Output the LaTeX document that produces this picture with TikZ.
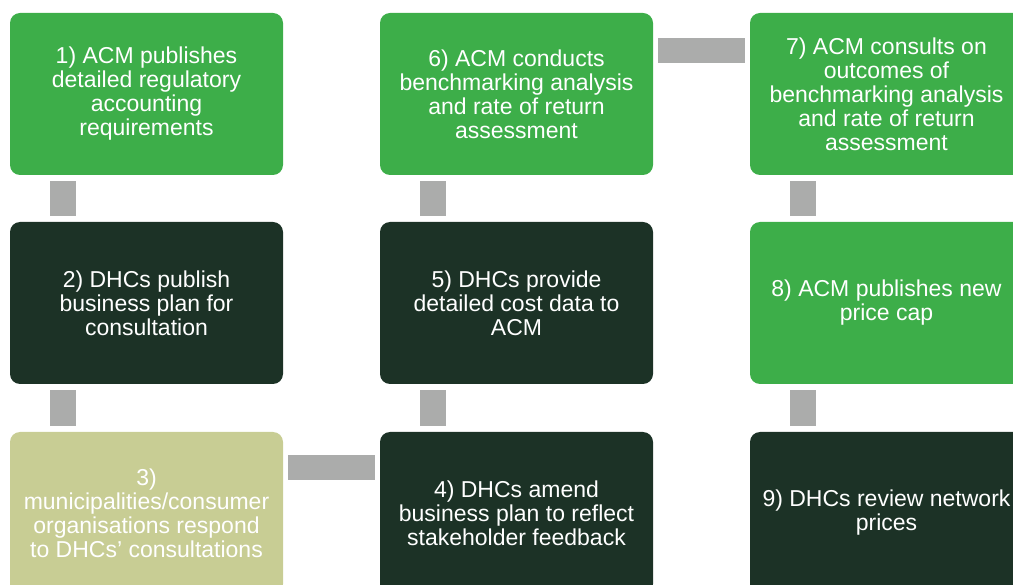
\documentclass[tikz,border=0pt]{standalone}
\usepackage{fontspec}
\setmainfont{Liberation Sans}
\usetikzlibrary{calc}
\definecolor{cgreen}{RGB}{61,174,73}
\definecolor{cdark}{RGB}{28,50,38}
\definecolor{cpale}{RGB}{200,205,148}
\definecolor{cgrey}{RGB}{171,172,171}
\begin{document}
\begin{tikzpicture}[x=1pt,y=-1pt,
  box/.style={rounded corners=10pt, minimum width=273pt, minimum height=162pt,
    inner sep=0pt, align=center, text=white, font=\fontsize{23}{24}\selectfont},
  greenbox/.style={box, fill=cgreen},
  darkbox/.style={box, fill=cdark},
  palebox/.style={box, fill=cpale},
  vconn/.style={draw=cgrey, line width=26pt, line cap=butt, shorten <=6pt, shorten >=6pt},
  hconn/.style={draw=cgrey, line width=25pt, line cap=butt, shorten <=5pt, shorten >=5pt}]
\useasboundingbox (0,0) rectangle (1013,585);
\clip (0,0) rectangle (1013,585);
\node[greenbox] (n1) at (146.5,94) {1) ACM publishes\\detailed regulatory\\accounting\\requirements};
\node[darkbox]  (n2) at (146.5,303) {2) DHCs publish\\business plan for\\consultation};
\node[palebox]  (n3) at (146.5,513) {3)\\municipalities/consumer\\organisations respond\\to DHCs’ consultations};
\node[darkbox]  (n4) at (516.5,513) {4) DHCs amend\\business plan to reflect\\stakeholder feedback};
\node[darkbox]  (n5) at (516.5,303) {5) DHCs provide\\detailed cost data to\\ACM};
\node[greenbox] (n6) at (516.5,94) {6) ACM conducts\\benchmarking analysis\\and rate of return\\assessment};
\node[greenbox] (n7) at (886.5,94) {7) ACM consults on\\outcomes of\\benchmarking analysis\\and rate of return\\assessment};
\node[greenbox] (n8) at (886.5,303) {8) ACM publishes new\\price cap};
\node[darkbox]  (n9) at (886.5,513) {9) DHCs review network\\prices};
% vertical connectors
\draw[vconn] ($(n1.south west)+(53,0)$) -- ($(n2.north west)+(53,0)$);
\draw[vconn] ($(n2.south west)+(53,0)$) -- ($(n3.north west)+(53,0)$);
\draw[vconn] ($(n4.north west)+(53,0)$) -- ($(n5.south west)+(53,0)$);
\draw[vconn] ($(n5.north west)+(53,0)$) -- ($(n6.south west)+(53,0)$);
\draw[vconn] ($(n7.south west)+(53,0)$) -- ($(n8.north west)+(53,0)$);
\draw[vconn] ($(n8.south west)+(53,0)$) -- ($(n9.north west)+(53,0)$);
% horizontal connectors
\draw[hconn] ($(n3.north east)+(0,36)$) -- ($(n4.north west)+(0,36)$);
\draw[hconn] ($(n6.north east)+(0,37.5)$) -- ($(n7.north west)+(0,37.5)$);
\end{tikzpicture}
\end{document}
